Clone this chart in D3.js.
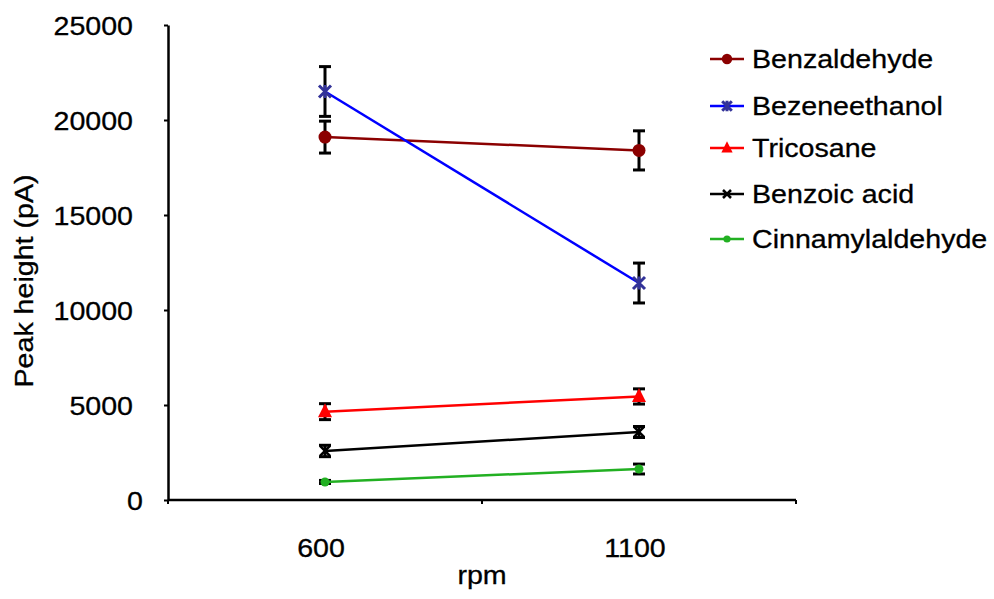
<!DOCTYPE html>
<html>
<head>
<meta charset="utf-8">
<script src="https://cdn.jsdelivr.net/npm/d3@7"></script>
<style>
  html, body { margin: 0; padding: 0; background: #fff; }
  text { font-family: "Liberation Sans", Arial, sans-serif; fill: #000; stroke: #000; stroke-width: 0.3px; }
</style>
</head>
<body>
<svg id="chart" width="994" height="599"></svg>
<script>
// Stirring speed categories
const categories = ["600", "1100"];

// Compound names (legend order)
const seriesNames = ["Benzaldehyde", "Bezeneethanol", "Tricosane", "Benzoic acid", "Cinnamylaldehyde"];

// Mean peak heights (pA) at 600 and 1100 rpm
const benzaldehyde     = [19100, 18400];
const bezeneethanol    = [21500, 11420];
const tricosane        = [4650, 5450];
const benzoicAcid      = [2580, 3580];
const cinnamylaldehyde = [950, 1630];

// Error bar half-widths (pA)
const benzaldehydeErr     = [840, 1030];
const bezeneethanolErr    = [1310, 1050];
const tricosaneErr        = [420, 400];
const benzoicAcidErr      = [300, 290];
const cinnamylaldehydeErr = [80, 260];

// Y axis ticks
const yTicks = [0, 5000, 10000, 15000, 20000, 25000];

const values = [benzaldehyde, bezeneethanol, tricosane, benzoicAcid, cinnamylaldehyde];
const errors = [benzaldehydeErr, bezeneethanolErr, tricosaneErr, benzoicAcidErr, cinnamylaldehydeErr];

const styles = [
  { line: "#8b0000", fill: "#8b0000", marker: "circle" },
  { line: "#0000ff", fill: "#333399", marker: "asterisk" },
  { line: "#ff0000", fill: "#ff0000", marker: "triangle" },
  { line: "#000000", fill: "#000000", marker: "cross" },
  { line: "#22b022", fill: "#22b022", marker: "dot" }
];

const series = seriesNames.map((name, i) => ({
  name, style: styles[i],
  points: categories.map((c, j) => ({ c, v: values[i][j], e: errors[i][j] }))
}));

const svg = d3.select("#chart");
const STRETCH = 1.1;
const FS = 26;

const x = d3.scaleBand().domain(categories).range([168, 796]).padding(0);
const y = d3.scaleLinear().domain([0, 25000]).range([500, 25]);

// Y axis
const yAxis = svg.append("g").attr("transform", "translate(168,0)")
  .call(d3.axisLeft(y).tickValues(yTicks).tickSize(4).tickSizeOuter(0).tickFormat(d3.format("d")));
yAxis.select(".domain").attr("stroke", "#000").attr("stroke-width", 2.5);
yAxis.selectAll(".tick line").attr("stroke", "#000").attr("stroke-width", 2);
yAxis.selectAll(".tick text").remove();
yAxis.selectAll(".tick").append("text")
  .attr("text-anchor", "end")
  .attr("dy", "0.35em")
  .attr("font-size", FS)
  .attr("transform", d => `translate(${d === 0 ? -25 : -35},0) scale(${STRETCH},1)`)
  .text(d => d3.format("d")(d));

// X axis: line with ticks at category boundaries, labels at category centres
const xAxis = svg.append("g").attr("transform", "translate(0,500)");
xAxis.append("line").attr("x1", 168).attr("x2", 796).attr("y1", 0).attr("y2", 0)
  .attr("stroke", "#000").attr("stroke-width", 2.5);
const bounds = [x.range()[0], ...categories.map(c => x(c) + x.bandwidth())];
xAxis.selectAll("line.bt").data(bounds).join("line").attr("class", "bt")
  .attr("x1", d => d).attr("x2", d => d).attr("y1", 0).attr("y2", 4)
  .attr("stroke", "#000").attr("stroke-width", 2);
xAxis.selectAll("text.cl").data(categories).join("text").attr("class", "cl")
  .attr("text-anchor", "middle")
  .attr("font-size", FS)
  .attr("transform", d => `translate(${x(d) + x.bandwidth() / 2 - 4},57) scale(${STRETCH},1)`)
  .text(d => d);

// Axis titles
svg.append("text").attr("text-anchor", "middle").attr("font-size", FS)
  .attr("transform", `translate(482,584) scale(${STRETCH},1)`).text("rpm");
svg.append("text").attr("text-anchor", "middle").attr("font-size", FS)
  .attr("transform", `translate(33,281) rotate(-90) scale(${STRETCH},1)`).text("Peak height (pA)");

const cx = c => x(c) + x.bandwidth() / 2;

// Error bars (drawn beneath lines and markers)
const eb = svg.append("g").attr("stroke", "#000").attr("stroke-width", 3);
series.forEach(s => {
  s.points.forEach(p => {
    const X = cx(p.c);
    eb.append("line").attr("x1", X).attr("x2", X).attr("y1", y(p.v + p.e)).attr("y2", y(p.v - p.e));
    eb.append("line").attr("x1", X - 6).attr("x2", X + 6).attr("y1", y(p.v + p.e)).attr("y2", y(p.v + p.e));
    eb.append("line").attr("x1", X - 6).attr("x2", X + 6).attr("y1", y(p.v - p.e)).attr("y2", y(p.v - p.e));
  });
});

function drawMarker(g, type, X, Y, color, scale) {
  const k = scale || 1;
  if (type === "circle") {
    g.append("circle").attr("cx", X).attr("cy", Y).attr("r", 6.5 * k).attr("fill", color);
  } else if (type === "dot") {
    g.append("circle").attr("cx", X).attr("cy", Y).attr("r", 4.5 * k).attr("fill", color);
  } else if (type === "triangle") {
    const s = 7 * k;
    g.append("path").attr("d", `M${X},${Y - s * 1.2}L${X + s},${Y + s * 0.8}L${X - s},${Y + s * 0.8}Z`).attr("fill", color);
  } else if (type === "asterisk") {
    const s = 6 * k;
    g.append("path").attr("d", `M${X - s},${Y - s}L${X + s},${Y + s}M${X - s},${Y + s}L${X + s},${Y - s}M${X},${Y - s * 1.1}L${X},${Y + s * 1.1}`)
      .attr("stroke", color).attr("stroke-width", 3 * Math.min(1, k + 0.2)).attr("fill", "none");
  } else if (type === "cross") {
    const s = 5 * k;
    g.append("path").attr("d", `M${X - s},${Y - s}L${X + s},${Y + s}M${X - s},${Y + s}L${X + s},${Y - s}`)
      .attr("stroke", color).attr("stroke-width", 2.5).attr("fill", "none");
  }
}

// Lines and markers
const line = d3.line().x(p => cx(p.c)).y(p => y(p.v));
series.forEach(s => {
  const g = svg.append("g");
  g.append("path").datum(s.points).attr("d", line)
    .attr("fill", "none").attr("stroke", s.style.line).attr("stroke-width", 2.5);
  s.points.forEach(p => drawMarker(g, s.style.marker, cx(p.c), y(p.v), s.style.fill));
});

// Legend
const legendRows = [59, 106, 148, 194, 239];
const lg = svg.append("g");
series.forEach((s, i) => {
  const Y = legendRows[i];
  lg.append("line").attr("x1", 710).attr("x2", 744).attr("y1", Y).attr("y2", Y)
    .attr("stroke", s.style.line).attr("stroke-width", 2.5);
  drawMarker(lg, s.style.marker, 727, Y, s.style.fill, 0.8);
  lg.append("text").attr("font-size", FS).attr("dy", "0.35em")
    .attr("transform", `translate(752,${Y}) scale(${STRETCH},1)`).text(s.name);
});
</script>
</body>
</html>
